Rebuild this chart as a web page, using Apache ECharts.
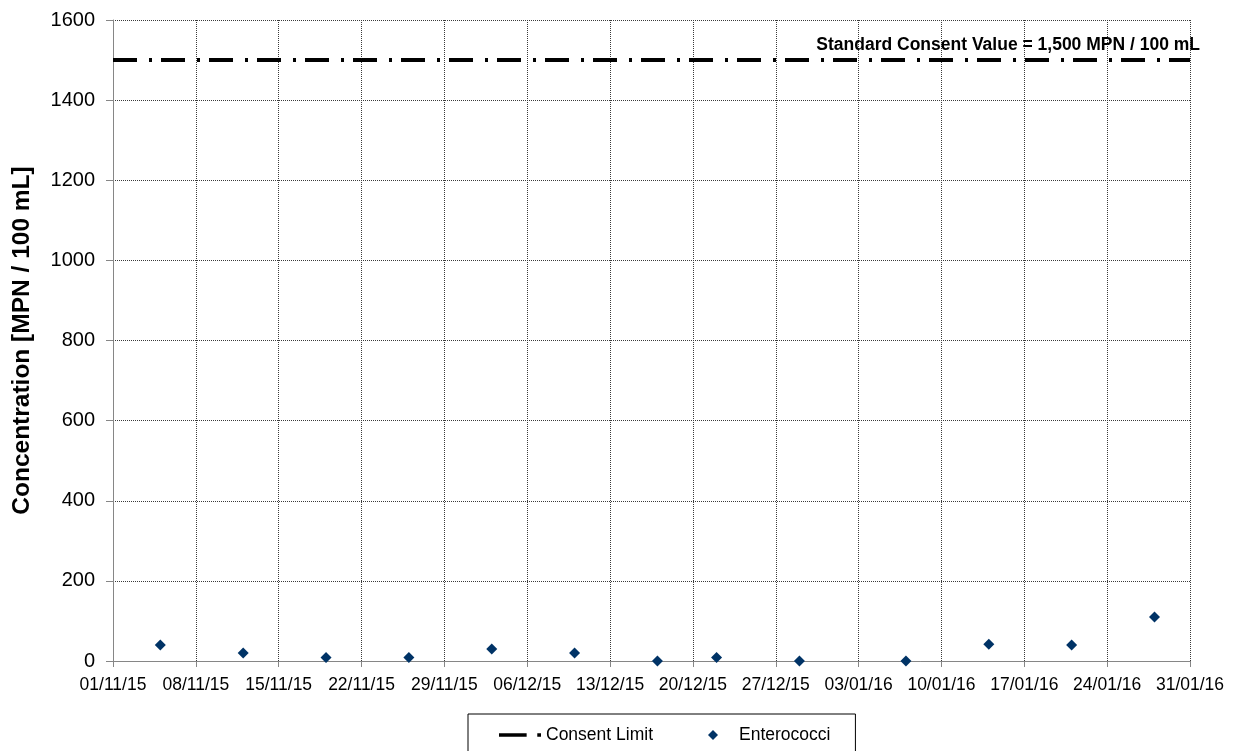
<!DOCTYPE html>
<html>
<head>
<meta charset="utf-8">
<script src="https://cdn.jsdelivr.net/npm/echarts@6/dist/echarts.min.js"></script>
<style>
html,body{margin:0;padding:0;background:#fff;}
#chart{width:1234px;height:751px;}
</style>
</head>
<body>
<div id="chart"></div>
<script>
// ---- data ----
const startDate = '01/11/15';
const tickLabels = ['01/11/15','08/11/15','15/11/15','22/11/15','29/11/15','06/12/15','13/12/15','20/12/15','27/12/15','03/01/16','10/01/16','17/01/16','24/01/16','31/01/16'];
const sampleDates = ['05/11/15','12/11/15','19/11/15','26/11/15','03/12/15','10/12/15','17/12/15','22/12/15','29/12/15','07/01/16','14/01/16','21/01/16','28/01/16'];
const enterococci = [40, 20, 9, 9, 30, 20, 0, 9, 0, 0, 42, 40, 110];
const consentValue = 1500;
const consentLabel = 'Standard Consent Value = 1,500 MPN / 100 mL';
const yTicks = [0, 200, 400, 600, 800, 1000, 1200, 1400, 1600];

function toUTC(s){ const p=s.split('/'); return Date.UTC(2000+ +p[2], +p[1]-1, +p[0]); }
const DAY = 86400000;
const t0 = toUTC(startDate);
const dayOf = s => Math.round((toUTC(s)-t0)/DAY);
const xMax = dayOf(tickLabels[tickLabels.length-1]);

const chart = echarts.init(document.getElementById('chart'));
const font = 'Liberation Sans, Arial, sans-serif';
const gridLine = {show:true,lineStyle:{color:'#3a3a3a',type:[1,1],width:1}};
chart.setOption({
  animation:false,
  backgroundColor:'#fff',
  textStyle:{fontFamily:font},
  grid:{left:113,right:44,top:20,bottom:90,containLabel:false},
  xAxis:{
    type:'value', min:0, max:xMax, interval:7,
    axisLine:{show:true,lineStyle:{color:'#868686',width:1}},
    axisTick:{show:true,length:6,lineStyle:{color:'#868686'}},
    axisLabel:{color:'#000',fontSize:17.5,fontFamily:font,margin:15,
      formatter:v=>tickLabels[Math.round(v/7)]||''},
    splitLine:gridLine
  },
  yAxis:{
    type:'value', min:yTicks[0], max:yTicks[yTicks.length-1], interval:yTicks[1]-yTicks[0],
    name:'Concentration [MPN / 100 mL]', nameLocation:'middle', nameGap:78,
    nameTextStyle:{color:'#000',fontSize:24.5,fontWeight:'bold',fontFamily:font},
    axisLine:{show:true,lineStyle:{color:'#868686',width:1}},
    axisTick:{show:true,length:7,lineStyle:{color:'#868686'}},
    axisLabel:{color:'#000',fontSize:20,fontFamily:font,margin:18,formatter:v=>String(v)},
    splitLine:gridLine
  },
  legend:{
    left:468, top:714, orient:'horizontal',
    itemWidth:42, itemHeight:10, itemGap:55,
    padding:[12,25,20,31],
    borderColor:'#000', borderWidth:1,
    textStyle:{color:'#000',fontSize:17.5,fontFamily:font},
    data:[
      {name:'Consent Limit', icon:'path://M0,0h26v3.5h-26z M36,0h3.5v3.5h-3.5z', itemStyle:{color:'#000'}},
      {name:'Enterococci', icon:'path://M5,0L10,5L5,10L0,5z'}
    ]
  },
  series:[
    {
      name:'Consent Limit', type:'line',
      data:[[0,consentValue],[xMax,consentValue]],
      symbol:'none',
      lineStyle:{color:'#000',width:4,type:[24,12,3,9],cap:'butt'},
      itemStyle:{color:'#000'},
      endLabel:{show:true,formatter:consentLabel,color:'#000',fontSize:17.5,fontWeight:'bold',
        fontFamily:font,align:'right',verticalAlign:'bottom',offset:[2,-6]},
      z:3
    },
    {
      name:'Enterococci', type:'scatter',
      data:sampleDates.map((d,i)=>[dayOf(d),enterococci[i]]),
      symbol:'diamond', symbolSize:11,
      itemStyle:{color:'#003366',opacity:1},
      z:4
    }
  ]
});
</script>
</body>
</html>
